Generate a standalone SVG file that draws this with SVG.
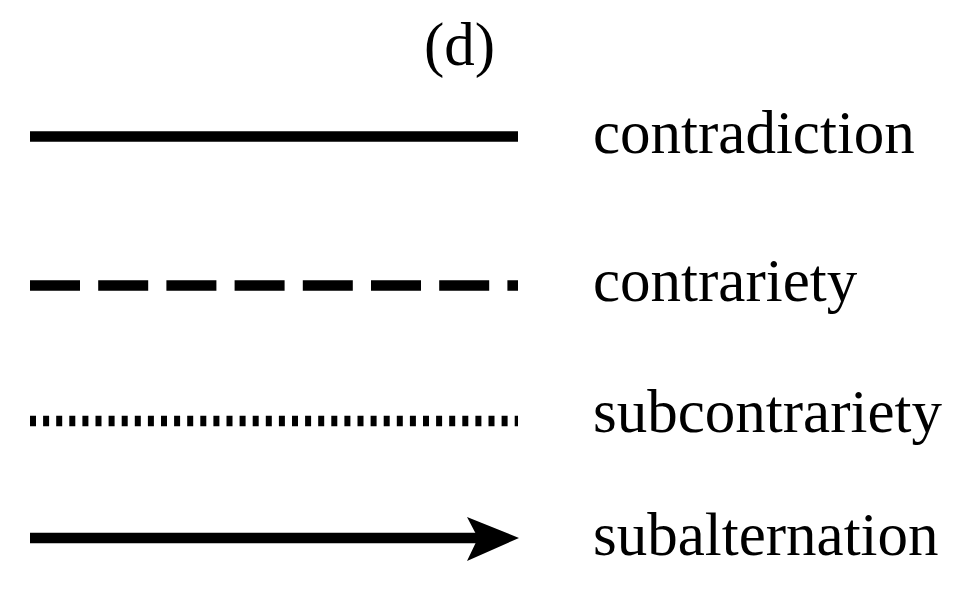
<svg xmlns="http://www.w3.org/2000/svg" width="959" height="600" viewBox="0 0 959 600">
  <style>
    .lbl { font-family: "Liberation Serif", "Times New Roman", serif; font-size: 61px; fill: #000; }
    .ln { stroke: #000; fill: none; stroke-width: 10.5; }
  </style>
  <rect width="959" height="600" fill="#fff"/>
  <g id="title">
    <text class="lbl" x="424" y="65">(d)</text>
  </g>
  <g id="connectors">
    <line id="contradiction-line" class="ln" x1="30" y1="136.5" x2="518" y2="136.5"/>
    <line id="contrariety-line" class="ln" x1="30" y1="285.5" x2="518" y2="285.5" stroke-dasharray="50 18.2"/>
    <line id="subcontrariety-line" class="ln" x1="30" y1="421" x2="518" y2="421" stroke-dasharray="6 7.1"/>
    <line id="subalternation-line" class="ln" x1="30" y1="538" x2="480" y2="538"/>
    <polygon id="subalternation-head" points="519,538 467,517 478,538 467,561" fill="#000"/>
  </g>
  <g id="legend-contradiction">
    <text class="lbl" x="593" y="153">contradiction</text>
  </g>
  <g id="legend-contrariety">
    <text class="lbl" x="593" y="301">contrariety</text>
  </g>
  <g id="legend-subcontrariety">
    <text class="lbl" x="593" y="432">subcontrariety</text>
  </g>
  <g id="legend-subalternation">
    <text class="lbl" x="593" y="555">subalternation</text>
  </g>
</svg>
